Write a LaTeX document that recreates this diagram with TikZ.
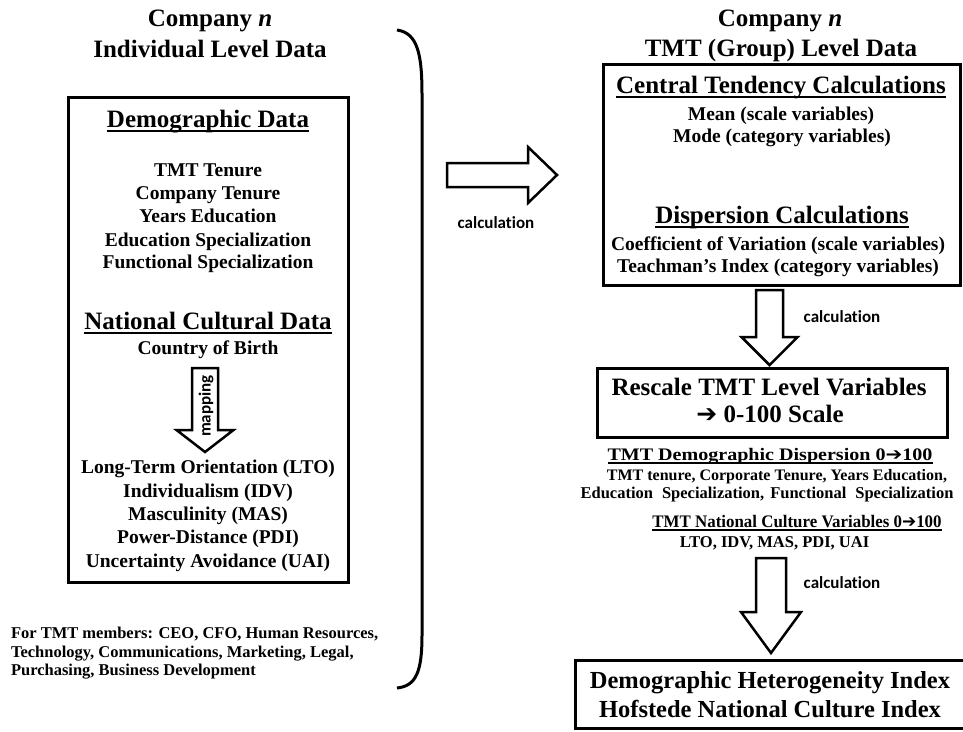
\documentclass[tikz,border=0pt]{standalone}
\usepackage{graphicx}
\usepackage{fontspec}
\setmainfont{Liberation Serif}
\newfontfamily\calfont{Carlito}[Ligatures={NoCommon,NoContextual}]
\newfontfamily\symfont{DejaVu Sans}

% underlined heading with the rule close under the baseline
\newcommand{\hdline}[1]{\setbox0\hbox{#1}\rlap{\rule[-0.2em]{\wd0}{0.07em}}\box0}
% heavy right arrow used inside text
\newcommand{\harrow}{{\symfont\char"2794}}
% label word, with the t-i pair kept apart
\newcommand{\calcword}{calculat\kern0pt ion}

% hollow block arrows
\newcommand{\blockdown}[6]{% x, top, head base, tip, half shaft, half head
  \draw[hollow] (#1-#5,#2) -- (#1-#5,#3) -- (#1-#6,#3) -- (#1,#4)
    -- (#1+#6,#3) -- (#1+#5,#3) -- (#1+#5,#2) -- cycle;}
\newcommand{\blockright}[6]{% y, left, head base, tip, half shaft, half head
  \draw[hollow] (#2,#1-#5) -- (#3,#1-#5) -- (#3,#1-#6) -- (#4,#1)
    -- (#3,#1+#6) -- (#3,#1+#5) -- (#2,#1+#5) -- cycle;}

\tikzset{
  every node/.style={inner sep=0pt, outer sep=0pt},
  bighd/.style={anchor=base, font=\fontsize{25}{30}\selectfont\bfseries},
  idxtxt/.style={anchor=base, font=\fontsize{24.5}{29}\selectfont\bfseries},
  item/.style={anchor=base, font=\fontsize{19.5}{23}\selectfont\bfseries},
  subhd/.style={anchor=base, font=\fontsize{17.6}{21}\selectfont\bfseries},
  small/.style={anchor=base, font=\fontsize{16.5}{19}\selectfont\bfseries},
  note/.style={anchor=base west, font=\fontsize{16.5}{19}\selectfont\bfseries},
  calclbl/.style={anchor=base, font=\calfont\fontsize{17}{20}\selectfont\bfseries},
  frame/.style={draw, line width=3pt},
  hollow/.style={draw, line width=2.5pt, fill=white, line join=miter},
}

\begin{document}
\begin{tikzpicture}[x=1pt,y=-1pt]
\useasboundingbox (0,0) rectangle (963,731);

% ---------------- left column: individual level data
\node[bighd] (ltitleA) at (210,26) {Company \textit{n}};
\node[bighd] (ltitleB) at (210,57) {Individual Level Data};

\node[frame, minimum width=280pt, minimum height=485pt] (leftbox) at (208,339.5) {};

\node[bighd] (demohd) at (208,127) {\hdline{Demographic Data}};
\node[item] (dA) at (208,176) {TMT Tenure};
\node[item] (dB) at (208,199) {Company Tenure};
\node[item] (dC) at (208,222) {Years Education};
\node[item] (dD) at (208,246) {Education Specialization};
\node[item] (dE) at (208,268) {Functional Specialization};

\node[bighd] (culthd) at (208,329) {\hdline{National Cultural Data}};
\node[item] (birth) at (208,354) {Country of Birth};

\blockdown{205}{368}{430}{452}{13}{28.5}
\node[calclbl, anchor=center, rotate=90] (maplbl) at (206,406) {mapping};

\node[item] (cA) at (208,473) {Long-Term Orientation (LTO)};
\node[item] (cB) at (208,497) {Individualism (IDV)};
\node[item] (cC) at (208,520) {Masculinity (MAS)};
\node[item] (cD) at (208,543) {Power-Distance (PDI)};
\node[item] (cE) at (208,567) {Uncertainty Avoidance (UAI)};

\node[note] (noteA) at (11,638) {For TMT members: CEO, CFO, Human Resources,};
\node[note] (noteB) at (11,657) {Technology, Communications, Marketing, Legal,};
\node[note] (noteC) at (11,675) {Purchasing, Business Development};

% closing bracket around the individual data
\draw[line width=3pt] (397,30) .. controls (418,33) and (422,55) .. (422,95)
  -- (422,635) .. controls (422,672) and (416,686) .. (397,688);

% calculation arrow to the group level
\blockright{175}{447}{528}{557}{12}{28}
\node[calclbl] (calcA) at (496,228) {\calcword};

% ---------------- right column: TMT group level data
\node[bighd] (rtitleA) at (780,26) {Company \textit{n}};
\node[bighd] (rtitleB) at (781,56) {TMT (Group) Level Data};

\node[frame, minimum width=357pt, minimum height=221pt] (tendbox) at (781.5,174.5) {};
\node[bighd] (tendhd) at (781,93) {\hdline{Central Tendency Calculations}};
\node[item] (tA) at (781,120) {Mean (scale variables)};
\node[item] (tB) at (782,142) {Mode (category variables)};
\node[bighd] (disphd) at (782,223) {\hdline{Dispersion Calculations}};
\node[item] (tC) at (778,250) {Coefficient of Variation (scale variables)};
\node[item] (tD) at (778,272) {Teachman’s Index (category variables)};

\blockdown{769.5}{290}{337}{365}{13.5}{28}
\node[calclbl] (calcB) at (842,322) {\calcword};

\node[frame, minimum width=350pt, minimum height=69pt] (rescalebox) at (772,402.5) {};
\node[bighd] (rsA) at (769,395) {Rescale TMT Level Variables};
\node[bighd] (rsB) at (770,422) {\harrow\ 0-100 Scale};

\node[subhd] (demdisp) at (770,460) {\scalebox{1.14}[1]{\hdline{TMT Demographic Dispersion 0\harrow100}}};
\node[small, font=\fontsize{16}{19}\selectfont\bfseries] (ddA) at (777,480) {TMT tenure, Corporate Tenure, Years Education,};
\node[small] (ddB) at (767,498) {Education\hspace{9pt}Specialization,\hspace{6pt}Functional\hspace{9pt}Specialization};
\node[subhd] (natcult) at (797,527) {\scalebox{0.96}[1]{\hdline{TMT National Culture Variables 0\harrow100}}};
\node[small] (ncA) at (774.5,547) {LTO, IDV, MAS, PDI, UAI};

\blockdown{771}{558}{612}{653}{15}{30}
\node[calclbl] (calcC) at (842,588) {\calcword};

\node[frame, minimum width=390pt, minimum height=68pt] (indexbox) at (770,694) {};
\node[idxtxt] (ixA) at (770,688) {Demographic Heterogeneity Index};
\node[idxtxt] (ixB) at (770,717) {Hofstede National Culture Index};
\end{tikzpicture}
\end{document}
